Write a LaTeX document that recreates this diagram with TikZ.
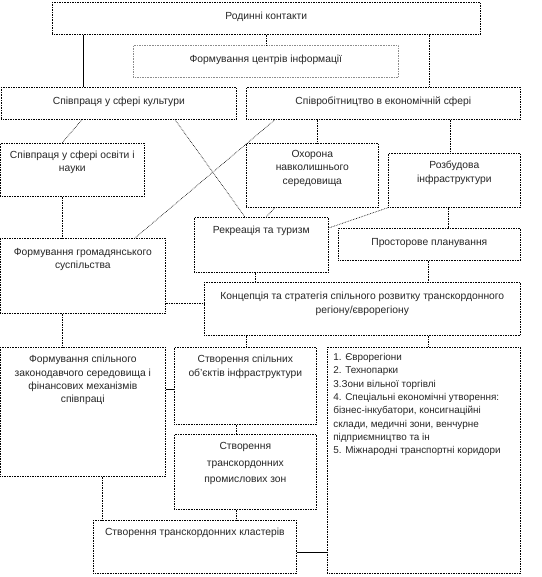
\documentclass[tikz,border=0pt]{standalone}
\usepackage{fontspec}
\setmainfont{Liberation Sans}
\newcommand{\bxt}[4]{\parbox[c][#2][t]{#1}{\vspace*{#3}\centering #4\par}}
\newcommand{\bxl}[4]{\parbox[c][#2][t]{#1}{\vspace*{#3}\raggedright\leftskip=6pt #4\par}}
\begin{document}
\begin{tikzpicture}[x=1pt,y=-1pt,
  bx/.style={draw=black, densely dotted, line width=0.65pt, inner sep=0pt, anchor=north west,
    font=\fontsize{10.3}{13.3}\selectfont, text=black!85},
  bxg/.style={bx, draw=black!45},
  cn/.style={draw=black, densely dotted, line width=0.65pt},
  cs/.style={draw=black, line width=0.65pt}]
\useasboundingbox (0,0) rectangle (541,577);

\node[bx] (rod) at (52,2) {\bxt{428pt}{32pt}{10pt}{Родинні контакти}};
\node[bxg] (inf) at (133,45) {\bxt{265pt}{32pt}{10pt}{Формування центрів інформації}};
\node[bx] (cult) at (1,87) {\bxt{235pt}{32pt}{10pt}{Співпраця у сфері культури}};
\node[bx] (econ) at (246,87) {\bxt{274pt}{32pt}{10pt}{Співробітництво в економічній сфері}};
\node[bx] (osv) at (0,143) {\bxt{144pt}{53pt}{7.5pt}{Співпраця у сфері освіти і\\науки}};
\node[bx] (ohor) at (246,143) {\bxt{132pt}{64pt}{7pt}{Охорона\\навколишнього\\середовища}};
\node[bx] (rozb) at (388,153) {\bxt{132pt}{54pt}{8pt}{Розбудова\\інфраструктури}};
\node[bx] (rekr) at (194,217) {\bxt{134pt}{55pt}{8.5pt}{Рекреація та туризм}};
\node[bx] (prost) at (338,228) {\bxt{182pt}{32pt}{10pt}{Просторове планування}};
\node[bx] (grom) at (0,238) {\bxt{165pt}{75pt}{10pt}{Формування громадянського\\суспільства}};
\node[bx] (konc) at (204,282) {\bxt{316pt}{53pt}{10pt}{Концепція та стратегія спільного розвитку транскордонного\\регіону/єврорегіону}};
\node[bx] (spil) at (0,347) {\bxt{165pt}{129pt}{8pt}{Формування спільного\\законодавчого середовища і\\фінансових механізмів\\співпраці}};
\node[bx] (obj) at (174,347) {\bxt{142pt}{77pt}{8pt}{Створення спільних\\об’єктів інфраструктури}};
\node[bx] (prom) at (174,434) {\bxt{142pt}{75pt}{8pt}{\fontsize{10.3}{16.5}\selectfont Створення\\транскордонних\\промислових зон}};
\node[bx] (list) at (327,347) {\bxl{193pt}{226pt}{6pt}{\fontsize{9.9}{13.3}\selectfont 1. Єврорегіони\\2. Технопарки\\3.Зони вільної торгівлі\\4. Спеціальні економічні утворення:\\бізнес-інкубатори, консигнаційні\\склади, медичні зони, венчурне\\підприємництво та ін\\5. Міжнародні транспортні коридори}};
\node[bx] (clust) at (93,520) {\bxt{203pt}{53pt}{8pt}{Створення транскордонних кластерів}};

% connectors
\draw[cs] (rod.south -| 83,0) -- (cult.north -| 83,0);
\draw[cn] (rod.south -| 266,0) -- (inf.north -| 266,0);
\draw[cn] (rod.south -| 429,0) -- (econ.north -| 429,0);
\draw[cn] (cult.south -| 82,0) -- (osv.north -| 62,0);
\draw[cn] (cult.south -| 175,0) -- (rekr.north -| 245,0);
\draw[cn] (econ.south -| 275,0) -- (grom.north -| 135,0);
\draw[cn] (econ.south -| 317,0) -- (ohor.north -| 317,0);
\draw[cn] (econ.south -| 450,0) -- (rozb.north -| 450,0);
\draw[cn] (ohor.south -| 275,0) -- (rekr.north -| 266,0);
\draw[cn] (rozb.south west) -- (rekr.east |- 0,228);
\draw[cn] (rozb.south -| 448,0) -- (prost.north -| 448,0);
\draw[cn] (osv.south -| 62,0) -- (grom.north -| 62,0);
\draw[cn] (rekr.south -| 255,0) -- (konc.north -| 255,0);
\draw[cn] (prost.south -| 428,0) -- (konc.north -| 428,0);
\draw[cn] (grom.east |- 0,303) -- (konc.west |- 0,303);
\draw[cn] (grom.south -| 62,0) -- (spil.north -| 62,0);
\draw[cn] (konc.south -| 246,0) -- (obj.north -| 246,0);
\draw[cn] (konc.south -| 428,0) -- (list.north -| 428,0);
\draw[cs] (spil.east |- 0,389) -- (obj.west |- 0,389);
\draw[cn] (obj.south -| 236,0) -- (prom.north -| 236,0);
\draw[cn] (prom.south -| 236,0) -- (clust.north -| 236,0);
\draw[cn] (spil.south -| 102,0) -- (clust.north -| 102,0);
\draw[cs] (clust.east |- 0,552) -- (list.west |- 0,552);
\end{tikzpicture}
\end{document}
